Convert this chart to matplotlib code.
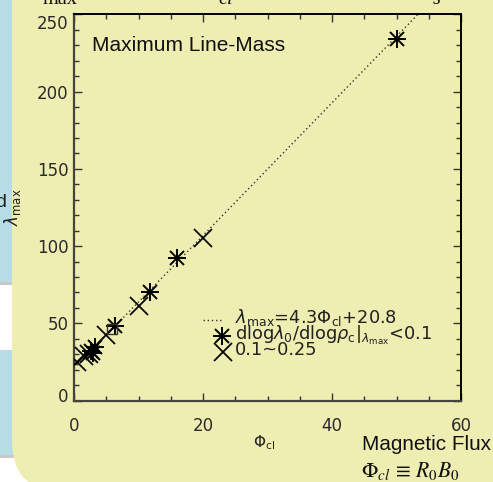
import matplotlib
matplotlib.use("Agg")
import matplotlib.pyplot as plt
from matplotlib.patches import Rectangle, FancyBboxPatch
from matplotlib.transforms import IdentityTransform, ScaledTranslation
import numpy as np

# ---------------- data ----------------
phi_star = [50.0, 16.0, 11.8, 6.4, 3.3, 2.7, 3.0]
lam_star = [234.0, 92.5, 70.0, 48.5, 34.5, 32.0, 30.5]
phi_x = [20.0, 10.1, 5.0, 2.3, 1.6, 0.4]
lam_x = [105.0, 61.5, 42.5, 30.0, 28.5, 25.0]
phi_sq = [5.9]
lam_sq = [46.0]
fit_slope = 4.3
fit_icept = 20.8
xticks = [0, 20, 40, 60]
yticks = [0, 50, 100, 150, 200, 250]

W, H = 493, 482
YELLOW = "#EEEDB2"
BLUE = "#B6DDE3"
GRAY = "#C8C8C8"

fig = plt.figure(figsize=(W / 100, H / 100), dpi=100, facecolor="white")

idt = IdentityTransform()

def rect(x0, y0, x1, y1, color):
    p = Rectangle((x0, H - y1), x1 - x0, y1 - y0, transform=idt,
                  facecolor=color, edgecolor="none", zorder=-20)
    fig.patches.append(p)

rect(0, 0, 14, 282, BLUE)
rect(0, 282, 14, 285, GRAY)
rect(0, 350, 14, 455, BLUE)
rect(0, 455, 14, 458, GRAY)
panel = FancyBboxPatch((12, H - 491), 700, 700,
                       boxstyle="round,pad=0,rounding_size=50",
                       transform=idt, facecolor=YELLOW, edgecolor="none",
                       zorder=-10)
fig.patches.append(panel)

# ---------------- axes ----------------
ax_l, ax_r, ax_t, ax_b = 74, 461, 14.5, 400.5
ax = fig.add_axes([ax_l / W, (H - ax_b) / H, (ax_r - ax_l) / W, (ax_b - ax_t) / H])
ax.set_facecolor("none")
ax.set_xlim(0, 60)
ax.set_ylim(0, 250)

xf = np.array([0, 60])
ax.plot(xf, fit_slope * xf + fit_icept, color="#333333", lw=1.0,
        linestyle=(0, (1, 2)), zorder=2)

ms = 13
mew = 1.4
ax.plot(phi_star, lam_star, linestyle="none", marker="+", ms=ms * 1.0,
        mew=mew, color="black", zorder=3)
ax.plot(phi_star, lam_star, linestyle="none", marker="x", ms=ms * 0.8,
        mew=mew, color="black", zorder=3)
ax.plot(phi_x, lam_x, linestyle="none", marker="x", ms=ms, mew=mew * 0.9,
        color="black", zorder=3)
ax.plot(phi_sq, lam_sq, linestyle="none", marker="s", ms=7, mew=1.0,
        mfc="none", mec="#333333", zorder=3)

ax.set_xticks(xticks)
ax.set_yticks(yticks)
ax.set_xticks(np.arange(0, 61, 5), minor=True)
ax.set_yticks(np.arange(0, 251, 10), minor=True)
ax.tick_params(which="both", direction="in", top=True, right=True,
               color="#333333", width=1.0)
ax.tick_params(which="major", length=6)
ax.tick_params(which="minor", length=3.5)
ax.tick_params(axis="x", which="major", pad=12)
ax.tick_params(axis="y", which="major", pad=4)
for lab in ax.get_xticklabels() + ax.get_yticklabels():
    lab.set_fontsize(12)
    lab.set_color("#2a2a2a")

ylabs = ax.get_yticklabels()
ylabs[0].set_transform(ylabs[0].get_transform() +
                       ScaledTranslation(0, 6 / 100, fig.dpi_scale_trans))
ylabs[-1].set_transform(ylabs[-1].get_transform() +
                        ScaledTranslation(0, -8 / 100, fig.dpi_scale_trans))

for side in ["left", "bottom"]:
    ax.spines[side].set_color("#44443a")
    ax.spines[side].set_linewidth(1.6)
for side in ["top", "right"]:
    ax.spines[side].set_color("black")
    ax.spines[side].set_linewidth(1.4)

def f(x, y):
    return x / W, 1 - y / H

fig.text(*f(92, 51), "Maximum Line-Mass", fontsize=15, family="Liberation Sans",
         ha="left", va="baseline", color="#111111")

# axis labels
fig.text(*f(264, 447), r"$\Phi_{\rm cl}$", fontsize=11, ha="center",
         va="baseline", color="#222222")
fig.text(*f(23, 207), r"$\lambda_{\rm max}$", fontsize=12, rotation=90,
         ha="right", va="center", color="#222222")
fig.text(*f(-5, 207), "d", fontsize=14, family="Liberation Sans",
         ha="left", va="baseline", color="#222222")

# legend (manual, IDL style)
lfs = 12.8
fig.lines.append(plt.Line2D([f(203, 0)[0], f(222, 0)[0]], [f(0, 320)[1]] * 2,
                            transform=fig.transFigure, color="#333333", lw=1.0,
                            linestyle=(0, (1, 2))))
for mk, msz in [("+", ms), ("x", ms * 0.8)]:
    fig.lines.append(plt.Line2D([f(222, 0)[0]], [f(0, 336)[1]],
                                transform=fig.transFigure, marker=mk, ms=msz,
                                mew=mew, color="black", linestyle="none"))
fig.lines.append(plt.Line2D([f(223, 0)[0]], [f(0, 351.5)[1]],
                            transform=fig.transFigure, marker="x", ms=ms,
                            mew=mew * 0.9, color="black", linestyle="none"))
fig.text(*f(235, 323), r"$\lambda_{\rm max}$=4.3$\Phi_{\rm cl}$+20.8",
         fontsize=lfs, ha="left", va="baseline", color="#222222")
fig.text(*f(235, 340), r"dlog$\lambda_0$/dlog$\rho_{\rm c}$|$_{\lambda_{\rm max}}$<0.1",
         fontsize=lfs, ha="left", va="baseline", color="#222222")
fig.text(*f(235, 355), "0.1~0.25", fontsize=lfs, ha="left", va="baseline",
         color="#222222")

# slide text fragments
fig.text(*f(362, 450), "Magnetic Flux", fontsize=14.9, family="Liberation Sans",
         ha="left", va="baseline", color="#111111")
fig.text(*f(361, 477), r"$\Phi_{cl}\,\equiv\,R_0B_0$", fontsize=15.5,
         ha="left", va="baseline", color="#111111", math_fontfamily="stix")
fig.text(*f(43, 4), "max", fontsize=14.6, family="Liberation Serif",
         ha="left", va="baseline", color="#111111")
fig.text(*f(218, 4), "cl", fontsize=14.6, family="Liberation Serif",
         style="italic", ha="left", va="baseline", color="#111111")
fig.text(*f(433, 4), "s", fontsize=14.6, family="Liberation Serif",
         style="italic", ha="left", va="baseline", color="#111111")

fig.savefig("out.png", dpi=100, facecolor=fig.get_facecolor())
